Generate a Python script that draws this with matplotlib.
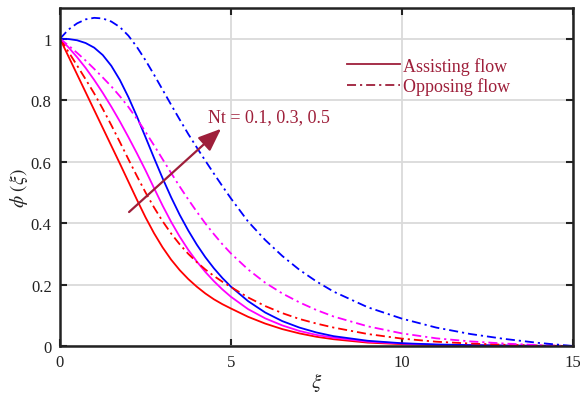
import numpy as np
import matplotlib
matplotlib.use('Agg')
import matplotlib.pyplot as plt

plt.rcParams['font.family'] = ['Liberation Serif', 'DejaVu Serif']
plt.rcParams['mathtext.fontset'] = 'stix'

# concentration profiles phi(xi) for Nt = 0.1, 0.3, 0.5
xi_fine = [0, 0.25, 0.5, 0.75, 1.0, 1.25, 1.5, 1.75, 2.0, 2.25, 2.5, 2.75, 3.0, 3.25, 3.5, 3.75,
           4.0, 4.25, 4.5, 4.75, 5.0, 5.5, 6.0, 6.5, 7.0, 7.5, 8.0, 9.0, 10.0, 11.0, 12.0, 13.0, 14.0, 15.0]

# assisting flow (solid lines)
phi_r1 = [1.0, 0.942, 0.884, 0.826, 0.768, 0.71, 0.652, 0.594, 0.535, 0.476, 0.419, 0.367, 0.321, 0.281, 0.247, 0.218,
          0.193, 0.171, 0.152, 0.136, 0.122, 0.095, 0.073, 0.055, 0.041, 0.030, 0.022, 0.011, 0.006, 0.003, 0.0015, 0.0008, 0.0003, 0.0]
phi_m1 = [1.0, 0.972, 0.94, 0.905, 0.866, 0.824, 0.779, 0.731, 0.68, 0.627, 0.572, 0.514, 0.457, 0.404, 0.356, 0.313,
          0.275, 0.241, 0.211, 0.184, 0.16, 0.12, 0.09, 0.067, 0.049, 0.036, 0.027, 0.014, 0.008, 0.004, 0.002, 0.001, 0.0005, 0.0]
phi_b1 = [1.0, 0.999, 0.995, 0.986, 0.971, 0.947, 0.912, 0.866, 0.81, 0.747, 0.68, 0.612, 0.546, 0.484, 0.427, 0.376,
          0.33, 0.289, 0.253, 0.221, 0.193, 0.146, 0.109, 0.081, 0.06, 0.044, 0.032, 0.017, 0.009, 0.005, 0.003, 0.0015, 0.0007, 0.0]

# opposing flow (dash-dot lines)
phi_r2 = [1.0, 0.957, 0.913, 0.868, 0.822, 0.772, 0.719, 0.664, 0.608, 0.553, 0.5, 0.451, 0.406, 0.366, 0.331, 0.3,
          0.273, 0.249, 0.228, 0.209, 0.192, 0.158, 0.13, 0.107, 0.088, 0.073, 0.06, 0.039, 0.024, 0.014, 0.008, 0.004, 0.0015, 0.0]
phi_m2 = [1.0, 0.978, 0.954, 0.929, 0.902, 0.874, 0.845, 0.813, 0.778, 0.739, 0.697, 0.653, 0.608, 0.563, 0.519, 0.477,
          0.437, 0.399, 0.364, 0.331, 0.301, 0.249, 0.206, 0.171, 0.142, 0.117, 0.096, 0.064, 0.041, 0.025, 0.015, 0.008, 0.003, 0.0]
phi_b2 = [1.0, 1.03, 1.05, 1.063, 1.068, 1.066, 1.056, 1.038, 1.01, 0.973, 0.93, 0.883, 0.834, 0.785, 0.737, 0.69,
          0.646, 0.603, 0.561, 0.52, 0.48, 0.405, 0.345, 0.293, 0.248, 0.21, 0.177, 0.126, 0.089, 0.06, 0.039, 0.023, 0.01, 0.0]

xticks = [0, 5, 10, 15]
yticks = [0, 0.2, 0.4, 0.6, 0.8, 1]
ytick_labels = ['0', '0.2', '0.4', '0.6', '0.8', '1']

maroon = '#9E1F3A'
dashdot = (0, (5, 2.2, 1.2, 2.2))

fig = plt.figure(figsize=(5.8, 4.02), dpi=100)
ax = fig.add_axes([0.1034, 0.1368, 0.8846, 0.8408])

lw = 1.3
ax.plot(xi_fine, phi_r1, color='#FF0000', lw=lw)
ax.plot(xi_fine, phi_m1, color='#FF00FF', lw=lw)
ax.plot(xi_fine, phi_b1, color='#0000FF', lw=lw)
ax.plot(xi_fine, phi_r2, color='#FF0000', lw=lw, linestyle=dashdot)
ax.plot(xi_fine, phi_m2, color='#FF00FF', lw=lw, linestyle=dashdot)
ax.plot(xi_fine, phi_b2, color='#0000FF', lw=lw, linestyle=dashdot)

# legend entries drawn in maroon
h1, = ax.plot([], [], color=maroon, lw=1.3, label='Assisting flow')
h2, = ax.plot([], [], color=maroon, lw=1.3, linestyle=dashdot, label='Opposing flow')
leg = ax.legend(handles=[h1, h2], loc='upper left', bbox_to_anchor=(0.546, 0.877),
                frameon=False, fontsize=13, handlelength=2.9, handletextpad=0.2,
                labelspacing=0.15, borderaxespad=0)
for t in leg.get_texts():
    t.set_color(maroon)

# arrow showing increasing Nt
ax.annotate('', xy=(4.71, 0.707), xytext=(2.02, 0.436),
            arrowprops=dict(arrowstyle='-|>,head_length=1.0,head_width=0.4',
                            mutation_scale=14, color=maroon, lw=1.6,
                            shrinkA=0, shrinkB=0))
ax.text(4.33, 0.746, 'Nt = 0.1, 0.3, 0.5', color=maroon, fontsize=13, va='center', ha='left')

ax.set_xlim(0, 15)
ax.set_ylim(0, 1.1)
ax.set_xticks(xticks)
ax.set_yticks(yticks)
ax.set_yticklabels(ytick_labels)
ax.grid(True, color='#DADADA', lw=1.3)
ax.set_axisbelow(True)
ax.tick_params(direction='in', length=5, width=1.5, top=True, right=True,
               labelsize=12, colors='#222222', pad=6)
for s in ax.spines.values():
    s.set_linewidth(1.8)
    s.set_color('#222222')

ax.set_xlabel(r'$\xi$', fontsize=15, color='#222222', labelpad=0)
ax.set_ylabel(r'$\phi\ (\xi)$', fontsize=14, color='#222222')
ax.yaxis.set_label_coords(-0.058, 0.47)

plt.savefig('out.png', dpi=100)
